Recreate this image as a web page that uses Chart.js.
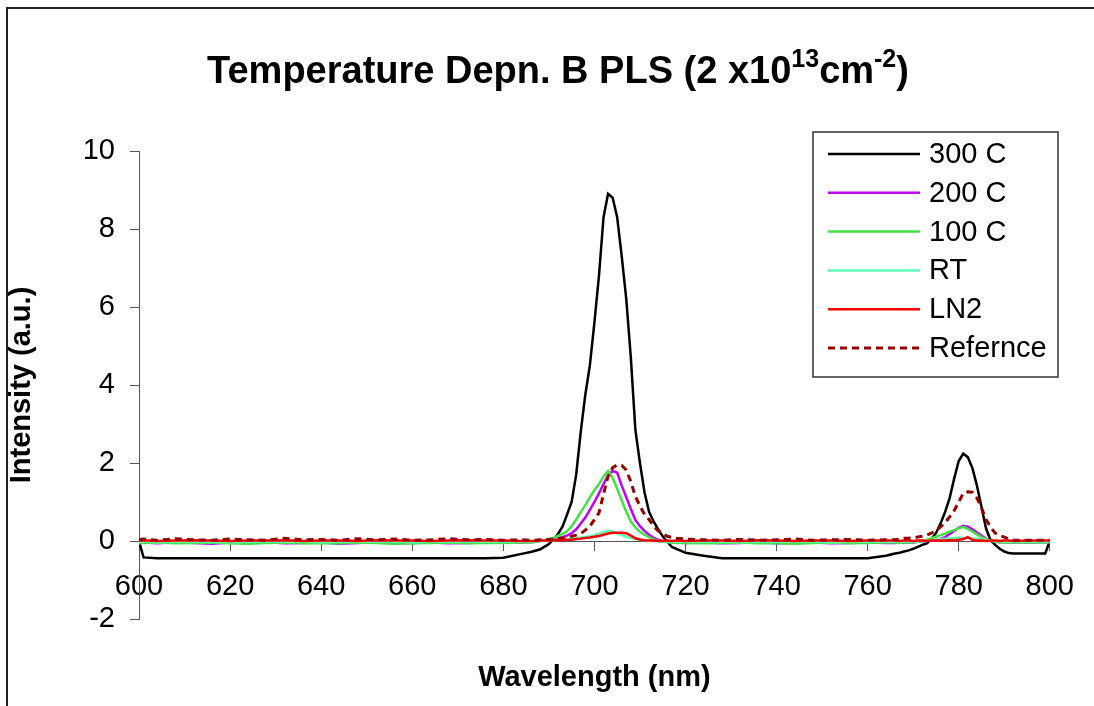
<!DOCTYPE html>
<html>
<head>
<meta charset="utf-8">
<title>Temperature Depn. B PLS</title>
<script src="https://cdn.jsdelivr.net/npm/chart.js@4.4.0/dist/chart.umd.min.js"></script>
<style>
  body { margin: 0; background: #fff; }
  canvas { display: block; }
</style>
</head>
<body>
<canvas id="myChart" width="1094" height="706"></canvas>
<script>
// wavelengths (nm), finer steps around the two peaks
const wavelengths = [
  600, 601, 604, 608, 612, 616, 620, 624, 628, 632, 636, 640, 644, 648, 652, 656, 660, 664, 668, 672, 676, 680, 684,
  686, 687, 688, 689, 690, 691, 692, 693, 694, 695, 696, 697, 698, 699, 700, 701, 702, 703, 704, 705, 706, 707, 708, 709, 710, 711, 712, 713, 714, 715, 716, 717, 718,
  720, 724, 728, 732, 736, 740, 744, 748, 752, 756, 760, 764,
  766, 767, 768, 769, 770, 771, 772, 773, 774, 775, 776, 777, 778, 779, 780, 781, 782, 783, 784, 785, 786, 787, 788, 789, 790, 791, 792,
  796, 799, 800
];

const c300 = [
  0, -0.42, -0.44, -0.44, -0.44, -0.44, -0.44, -0.44, -0.44, -0.44, -0.44, -0.44, -0.44, -0.44, -0.44, -0.44, -0.44, -0.44, -0.44, -0.44, -0.44, -0.43, -0.33,
  -0.28, -0.25, -0.22, -0.15, -0.08, 0.04, 0.18, 0.37, 0.68, 1.0, 1.7, 2.8, 3.75, 4.5, 5.6, 6.8, 8.3, 8.9, 8.8, 8.3, 7.3, 6.2, 4.7, 2.85, 2.0, 1.25, 0.75, 0.5, 0.3, 0.12, -0.02, -0.15, -0.2,
  -0.3, -0.38, -0.44, -0.44, -0.44, -0.44, -0.44, -0.44, -0.44, -0.44, -0.44, -0.38,
  -0.32, -0.3, -0.27, -0.24, -0.2, -0.15, -0.1, -0.06, 0.05, 0.2, 0.45, 0.74, 1.1, 1.6, 2.05, 2.24, 2.15, 1.87, 1.42, 0.87, 0.32, 0.02, -0.1, -0.2, -0.27, -0.31, -0.32,
  -0.32, -0.32, 0
];
const c200 = [
  -0.05, -0.04, -0.06, -0.03, -0.05, -0.07, -0.04, -0.05, -0.03, -0.06, -0.05, -0.04, -0.07, -0.05, -0.03, -0.06, -0.05, -0.04, -0.06, -0.05, -0.04, -0.03, -0.04,
  -0.03, -0.02, 0, 0.01, 0.02, 0.04, 0.07, 0.1, 0.14, 0.2, 0.3, 0.45, 0.6, 0.8, 1.0, 1.22, 1.46, 1.68, 1.8, 1.75, 1.42, 1.12, 0.82, 0.54, 0.38, 0.26, 0.16, 0.08, 0.03, 0, -0.02, -0.03, -0.04,
  -0.05, -0.04, -0.06, -0.05, -0.03, -0.06, -0.05, -0.04, -0.06, -0.05, -0.04, -0.05,
  -0.05, -0.04, -0.05, -0.03, -0.04, -0.02, -0.01, 0, 0.01, 0.02, 0.06, 0.1, 0.18, 0.26, 0.34, 0.39, 0.37, 0.3, 0.22, 0.14, 0.06, 0.01, -0.02, -0.03, -0.03, -0.04, -0.04,
  -0.04, -0.03, -0.03
];
const c100 = [
  -0.06, -0.05, -0.04, -0.06, -0.05, -0.04, -0.06, -0.07, -0.05, -0.04, -0.06, -0.05, -0.06, -0.04, -0.05, -0.07, -0.06, -0.05, -0.04, -0.06, -0.05, -0.05, -0.04,
  -0.04, -0.02, 0, 0.02, 0.05, 0.08, 0.13, 0.18, 0.25, 0.38, 0.55, 0.74, 0.92, 1.12, 1.3, 1.46, 1.65, 1.8, 1.62, 1.34, 1.04, 0.75, 0.5, 0.35, 0.24, 0.16, 0.1, 0.04, 0.01, -0.02, -0.03, -0.04, -0.05,
  -0.05, -0.06, -0.05, -0.04, -0.06, -0.05, -0.07, -0.05, -0.04, -0.06, -0.05, -0.04,
  -0.04, -0.05, -0.03, -0.04, -0.03, -0.02, 0, 0.03, 0.07, 0.11, 0.15, 0.19, 0.24, 0.28, 0.33, 0.36, 0.31, 0.24, 0.17, 0.1, 0.05, 0.01, -0.02, -0.03, -0.04, -0.03, -0.04,
  -0.04, -0.04, -0.03
];
const cRT = [
  -0.02, -0.01, -0.03, -0.02, -0.01, -0.02, -0.03, -0.02, -0.01, -0.02, -0.02, -0.03, -0.01, -0.02, -0.02, -0.01, -0.03, -0.02, -0.02, -0.01, -0.02, -0.02, -0.02,
  -0.02, -0.01, 0, 0.01, 0.01, 0.02, 0.03, 0.04, 0.05, 0.06, 0.07, 0.09, 0.1, 0.12, 0.15, 0.19, 0.23, 0.27, 0.25, 0.19, 0.15, 0.11, 0.08, 0.05, 0.03, 0.02, 0.01, 0, -0.01, -0.01, -0.02, -0.02, -0.02,
  -0.02, -0.02, -0.01, -0.03, -0.02, -0.02, -0.01, -0.02, -0.03, -0.02, -0.02, -0.02,
  -0.02, -0.02, -0.01, -0.02, -0.01, -0.01, 0, 0, 0.01, 0.03, 0.05, 0.06, 0.07, 0.08, 0.09, 0.08, 0.08, 0.07, 0.06, 0.05, 0.03, 0.01, 0, -0.01, -0.02, -0.02, -0.02,
  -0.02, -0.02, -0.02
];
const cLN2 = [
  0.01, 0.02, 0, 0.01, 0.02, 0.01, 0, 0.01, 0.01, 0.02, 0, 0.01, 0.01, 0, 0.02, 0.01, 0.01, 0, 0.01, 0.02, 0.01, 0.01, 0,
  0, 0, 0.01, 0.01, 0.01, 0.02, 0.02, 0.02, 0.03, 0.03, 0.05, 0.06, 0.08, 0.09, 0.11, 0.13, 0.16, 0.19, 0.21, 0.21, 0.21, 0.2, 0.14, 0.07, 0.04, 0.02, 0.01, 0.01, 0, 0, 0.01, 0, 0.01,
  0, 0.01, 0.01, 0, 0.02, 0.01, 0, 0.01, 0.01, 0, 0.01, 0.01,
  0.01, 0, 0.01, 0.01, 0, 0.01, 0.01, 0, 0.01, 0.01, 0.01, 0.01, 0.02, 0.02, 0.03, 0.05, 0.1, 0.03, 0.01, 0.01, 0, 0.01, 0.01, 0, 0.01, 0.01, 0,
  0.01, 0.01, 0.01
];
const cRef = [
  0.03, 0.05, 0.02, 0.06, 0.03, 0.02, 0.05, 0.03, 0.02, 0.07, 0.03, 0.04, 0.02, 0.06, 0.03, 0.05, 0.02, 0.03, 0.06, 0.03, 0.04, 0.02, 0.03,
  0.02, 0.02, 0.03, 0.03, 0.04, 0.05, 0.06, 0.08, 0.1, 0.12, 0.15, 0.19, 0.28, 0.38, 0.55, 0.72, 1.2, 1.66, 1.88, 1.95, 1.94, 1.82, 1.52, 1.14, 0.9, 0.68, 0.55, 0.38, 0.26, 0.18, 0.12, 0.09, 0.07,
  0.05, 0.03, 0.02, 0.04, 0.02, 0.03, 0.05, 0.02, 0.03, 0.04, 0.02, 0.03,
  0.03, 0.05, 0.07, 0.07, 0.08, 0.1, 0.12, 0.15, 0.2, 0.26, 0.36, 0.47, 0.62, 0.78, 1.0, 1.23, 1.26, 1.25, 1.1, 0.85, 0.55, 0.36, 0.2, 0.14, 0.1, 0.05, 0.02,
  0.02, 0.02, 0.02
];

const xTicks = [600, 620, 640, 660, 680, 700, 720, 740, 760, 780, 800];
const yTicks = [-2, 0, 2, 4, 6, 8, 10];

const FONT = '"Liberation Sans", Arial, sans-serif';

function pts(vals) {
  return wavelengths.map((w, i) => ({ x: w, y: vals[i] }));
}

const data = {
  datasets: [
    { label: '300 C', data: pts(c300), borderColor: '#000000', order: 5 },
    { label: '200 C', data: pts(c200), borderColor: '#c000ff', order: 4 },
    { label: '100 C', data: pts(c100), borderColor: '#44e044', order: 3 },
    { label: 'RT', data: pts(cRT), borderColor: '#5effb4', order: 2 },
    { label: 'LN2', data: pts(cLN2), borderColor: '#ff0000', order: 1 },
    { label: 'Refernce', data: pts(cRef), borderColor: '#990000', borderDash: [7, 5], borderWidth: 3, order: 0 }
  ]
};

// frame + white background
const framePlugin = {
  id: 'frame',
  beforeDraw(chart) {
    const ctx = chart.ctx;
    ctx.save();
    ctx.fillStyle = '#fff';
    ctx.fillRect(0, 0, chart.width, chart.height);
    ctx.strokeStyle = '#222';
    ctx.lineWidth = 2;
    ctx.beginPath();
    ctx.moveTo(7, chart.height);
    ctx.lineTo(7, 8);
    ctx.lineTo(chart.width, 8);
    ctx.stroke();
    ctx.restore();
  }
};

// title with superscripts
const titlePlugin = {
  id: 'supTitle',
  afterDraw(chart) {
    const ctx = chart.ctx;
    const parts = [
      ['Temperature Depn. B PLS (2 x10', false],
      ['13', true],
      ['cm', false],
      ['-2', true],
      [')', false]
    ];
    const big = 'bold 38px ' + FONT, small = 'bold 25px ' + FONT;
    ctx.save();
    let total = 0;
    parts.forEach(p => { ctx.font = p[1] ? small : big; total += ctx.measureText(p[0]).width; });
    let x = 558 - total / 2;
    const base = 83;
    ctx.fillStyle = '#000';
    ctx.textBaseline = 'alphabetic';
    ctx.textAlign = 'left';
    parts.forEach(p => {
      ctx.font = p[1] ? small : big;
      ctx.fillText(p[0], x, p[1] ? base - 16 : base);
      x += ctx.measureText(p[0]).width;
    });
    ctx.restore();
  }
};

// legend box inside the plot, Excel style
const legendPlugin = {
  id: 'boxLegend',
  afterDraw(chart) {
    const ctx = chart.ctx;
    const bx = 813, by = 132, bw = 245, bh = 245;
    ctx.save();
    ctx.fillStyle = '#fff';
    ctx.fillRect(bx, by, bw, bh);
    ctx.strokeStyle = '#333';
    ctx.lineWidth = 1.5;
    ctx.strokeRect(bx, by, bw, bh);
    ctx.font = '29px ' + FONT;
    ctx.textBaseline = 'middle';
    ctx.textAlign = 'left';
    chart.data.datasets.forEach((ds, i) => {
      const y = 154 + i * 38.8;
      ctx.beginPath();
      ctx.strokeStyle = ds.borderColor;
      ctx.lineWidth = ds.borderWidth || 2.5;
      ctx.setLineDash(ds.borderDash || []);
      ctx.moveTo(828, y);
      ctx.lineTo(920, y);
      ctx.stroke();
      ctx.setLineDash([]);
      ctx.fillStyle = '#000';
      ctx.fillText(ds.label, 929, y + 1);
    });
    ctx.restore();
  }
};

const config = {
  type: 'line',
  data: data,
  options: {
    responsive: false,
    animation: false,
    devicePixelRatio: 1,
    layout: { padding: { left: 0, top: 151, right: 42, bottom: 87 } },
    elements: {
      point: { radius: 0 },
      line: { borderWidth: 2.5, tension: 0, fill: false }
    },
    plugins: {
      legend: { display: false },
      title: { display: false },
      tooltip: { enabled: false }
    },
    scales: {
      x: {
        type: 'linear',
        position: { y: 0 },
        min: 600,
        max: 800,
        afterBuildTicks: s => { s.ticks = xTicks.map(v => ({ value: v })); },
        ticks: { color: '#000', font: { family: FONT, size: 29 }, padding: 20, maxRotation: 0 },
        grid: { drawOnChartArea: false, drawTicks: true, tickLength: 9, color: '#555' },
        border: { display: true, color: '#555', width: 1 },
        title: {
          display: true,
          text: 'Wavelength (nm)',
          color: '#000',
          font: { family: FONT, size: 29, weight: 'bold' },
          padding: { top: 36, bottom: 0 }
        }
      },
      y: {
        min: -2,
        max: 10,
        afterBuildTicks: s => { s.ticks = yTicks.map(v => ({ value: v })); },
        afterFit: s => { s.width = 139; },
        ticks: { color: '#000', font: { family: FONT, size: 29 }, padding: 15 },
        grid: { drawOnChartArea: false, drawTicks: true, tickLength: 9, color: '#555' },
        border: { display: true, color: '#555', width: 1 },
        title: {
          display: true,
          text: 'Intensity (a.u.)',
          color: '#000',
          font: { family: FONT, size: 29, weight: 'bold' },
          padding: { top: 5, bottom: 0 }
        }
      }
    }
  },
  plugins: [framePlugin, titlePlugin, legendPlugin]
};

const myChart = new Chart(document.getElementById('myChart'), config);
</script>
</body>
</html>
